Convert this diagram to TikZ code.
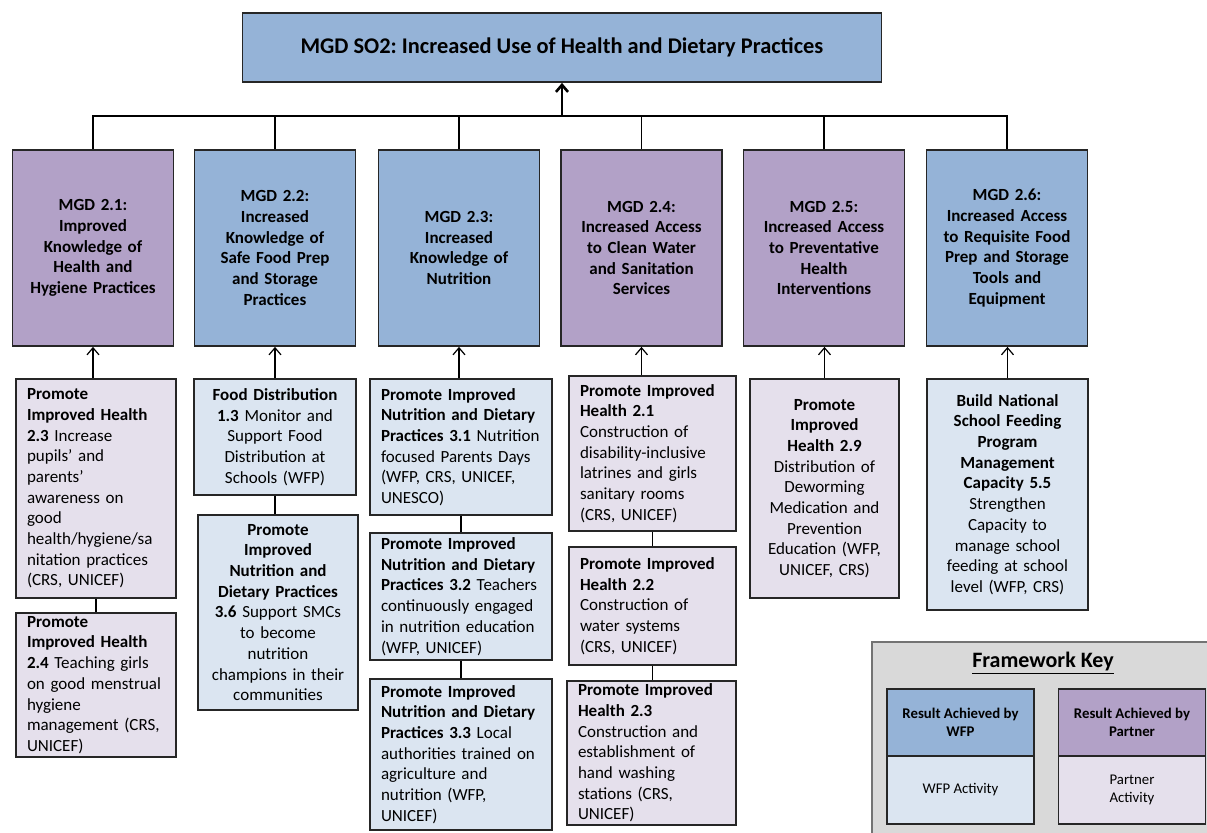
\documentclass[tikz,border=0pt]{standalone}
\usepackage{fontspec}
\setmainfont{Carlito}
\usetikzlibrary{arrows.meta}
\frenchspacing
\definecolor{resblue}{HTML}{95B3D7}
\definecolor{respurple}{HTML}{B2A1C7}
\definecolor{actblue}{HTML}{DBE5F1}
\definecolor{actpurple}{HTML}{E5E0EC}
\definecolor{keygray}{HTML}{D9D9D9}
\tikzset{
    box/.style={draw=black!85, line width=0.9pt, inner xsep=5.5pt, inner ysep=0pt,
        font=\fontsize{8.5}{10.35}\selectfont},
    mgd/.style={box, minimum height=98pt, text width=69.5pt, align=center,
        font=\fontsize{8.5}{10.35}\selectfont\bfseries},
    act/.style={box, align=left},
    actc/.style={box, align=center},
    keycell/.style={draw=black!85, line width=0.9pt, minimum width=73.5pt, align=center,
        font=\fontsize{7.4}{9}\selectfont},
    arr/.style={line width=0.6pt, -{Straight Barb[length=3.5pt,width=6pt]}},
    toparr/.style={line width=1.3pt, -{Straight Barb[length=3.5pt,width=6pt]}}
}
\begin{document}
\begin{tikzpicture}[x=0.5pt,y=-0.5pt]
            \useasboundingbox (0,0) rectangle (1207,832);
            \node[box, fill=resblue, minimum width=319.5pt, minimum height=34.5pt,
                font=\fontsize{11.2}{13}\selectfont\bfseries] (top) at (562,47.5)
                {MGD SO2: Increased Use of Health and Dietary Practices};

            \node[mgd, fill=respurple] (m1) at (93,248)
                {MGD 2.1:\\Improved\\Knowledge of\\Health and\\Hygiene Practices};
            \node[mgd, fill=resblue] (m2) at (275,248)
                {MGD 2.2:\\Increased\\Knowledge of\\Safe Food Prep\\and Storage\\Practices};
            \node[mgd, fill=resblue] (m3) at (459,248)
                {MGD 2.3:\\Increased\\Knowledge of\\Nutrition};
            \node[mgd, fill=respurple] (m4) at (641.5,248)
                {MGD 2.4:\\Increased Access\\to Clean Water\\and Sanitation\\Services};
            \node[mgd, fill=respurple] (m5) at (824,248)
                {MGD 2.5:\\Increased Access\\to Preventative\\Health\\Interventions};
            \node[mgd, fill=resblue] (m6) at (1007,248)
                {MGD 2.6:\\Increased Access\\to Requisite Food\\Prep and Storage\\Tools and\\Equipment};

            \coordinate (bus) at (562,116);
            \foreach \m in {m1,m2,m3,m4,m5,m6}
                \draw[line width=0.7pt] (\m.north) |- (bus);
            \draw[toparr] (bus) -- (top.south);

            \node[act, fill=actpurple, text width=69pt, minimum height=109.5pt] (a1) at (96,488.5)
                {{\bfseries Promote\\Improved Health\\2.3} Increase\\pupils' and\\parents'\\awareness on\\good\\health/hygiene/sa\\nitation practices\\(CRS, UNICEF)};
            \node[act, fill=actpurple, text width=69pt, minimum height=72pt] (a2) at (96,685)
                {{\bfseries Promote\\Improved Health\\2.4} Teaching girls\\on good menstrual\\hygiene\\management (CRS,\\UNICEF)};

            \node[actc, fill=actblue, text width=70pt, minimum height=58pt] (b1) at (275,437)
                {{\bfseries Food Distribution\\1.3} Monitor and\\Support Food\\Distribution at\\Schools (WFP)};
            \node[actc, fill=actblue, text width=69pt, minimum height=97.5pt] (b2) at (278,612.5)
                {{\bfseries Promote\\Improved\\Nutrition and\\Dietary Practices\\3.6} Support SMCs\\to become\\nutrition\\champions in their\\communities};

            \node[act, fill=actblue, text width=80pt, minimum height=68pt] (c1) at (461,447)
                {{\bfseries Promote Improved\\Nutrition and Dietary\\Practices 3.1} Nutrition\\focused Parents Days\\(WFP, CRS, UNICEF,\\UNESCO)};
            \node[act, fill=actblue, text width=80pt, minimum height=63.5pt] (c2) at (461,596.5)
                {{\bfseries Promote Improved\\Nutrition and Dietary\\Practices 3.2} Teachers\\continuously engaged\\in nutrition education\\(WFP, UNICEF)};
            \node[act, fill=actblue, text width=80pt, minimum height=75.5pt] (c3) at (461,754.5)
                {{\bfseries Promote Improved\\Nutrition and Dietary\\Practices 3.3} Local\\authorities trained on\\agriculture and\\nutrition (WFP,\\UNICEF)};

            \node[act, fill=actpurple, text width=72.5pt, minimum height=77.5pt] (d1) at (652.5,453.5)
                {{\bfseries Promote Improved\\Health 2.1}\\Construction of\\disability-inclusive\\latrines and girls\\sanitary rooms\\(CRS, UNICEF)};
            \node[act, fill=actpurple, text width=72.5pt, minimum height=59pt] (d2) at (652.5,606)
                {{\bfseries Promote Improved\\Health 2.2}\\Construction of\\water systems\\(CRS, UNICEF)};
            \node[act, fill=actpurple, text width=73.5pt, minimum height=72pt] (d3) at (651.5,753)
                {{\bfseries Promote Improved\\Health 2.3}\\Construction and\\establishment of\\hand washing\\stations (CRS,\\UNICEF)};

            \node[actc, fill=actpurple, text width=63.5pt, minimum height=109.5pt] (e1) at (824.5,488.5)
                {{\bfseries Promote\\Improved\\Health 2.9}\\Distribution of\\Deworming\\Medication and\\Prevention\\Education (WFP,\\UNICEF, CRS)};

            \node[actc, fill=actblue, text width=69.5pt, minimum height=115.5pt] (f1) at (1007.5,494.5)
                {{\bfseries Build National\\School Feeding\\Program\\Management\\Capacity 5.5}\\Strengthen\\Capacity to\\manage school\\feeding at school\\level (WFP, CRS)};

            \draw[arr] (m1.south |- a1.north) -- (m1.south);
            \draw[arr] (b1.north) -- (b1.north |- m2.south);
            \draw[arr] (m3.south |- c1.north) -- (m3.south);
            \draw[arr] (d1.north -| m4.south) -- (m4.south);
            \draw[arr] (e1.north) -- (e1.north |- m5.south);
            \draw[arr] (f1.north) -- (f1.north |- m6.south);

            \draw[line width=0.7pt] (a1.south) -- (a2.north);
            \draw[line width=0.7pt] (b1.south) -- (b1.south |- b2.north);
            \draw[line width=0.7pt] (c1.south) -- (c2.north);
            \draw[line width=0.7pt] (c2.south) -- (c3.north);
            \draw[line width=0.7pt] (d1.south) -- (d2.north);
            \draw[line width=0.7pt] (d2.south) -- (d2.south |- d3.north);

            \begin{scope}
                \clip (0,0) rectangle (1207,832);
                \draw[fill=keygray, draw=black!55, line width=0.8pt] (872,642) rectangle (1240,860);
            \end{scope}
            \node[font=\fontsize{11}{13}\selectfont\bfseries] (keytitle) at (1043,663)
                {\underline{Framework Key}};
            \node[keycell, fill=resblue, minimum height=33.5pt, font=\fontsize{7.4}{9}\selectfont\bfseries] (kw1) at (960.5,722.5)
                {Result Achieved by\\WFP};
            \node[keycell, fill=actblue, minimum height=34pt] (kw2) at (960.5,790)
                {WFP Activity};
            \node[keycell, fill=respurple, minimum height=33.5pt, font=\fontsize{7.4}{9}\selectfont\bfseries] (kp1) at (1132,722.5)
                {Result Achieved by\\Partner};
            \node[keycell, fill=actpurple, minimum height=34pt] (kp2) at (1132,790)
                {Partner\\Activity};
\end{tikzpicture}
\end{document}
